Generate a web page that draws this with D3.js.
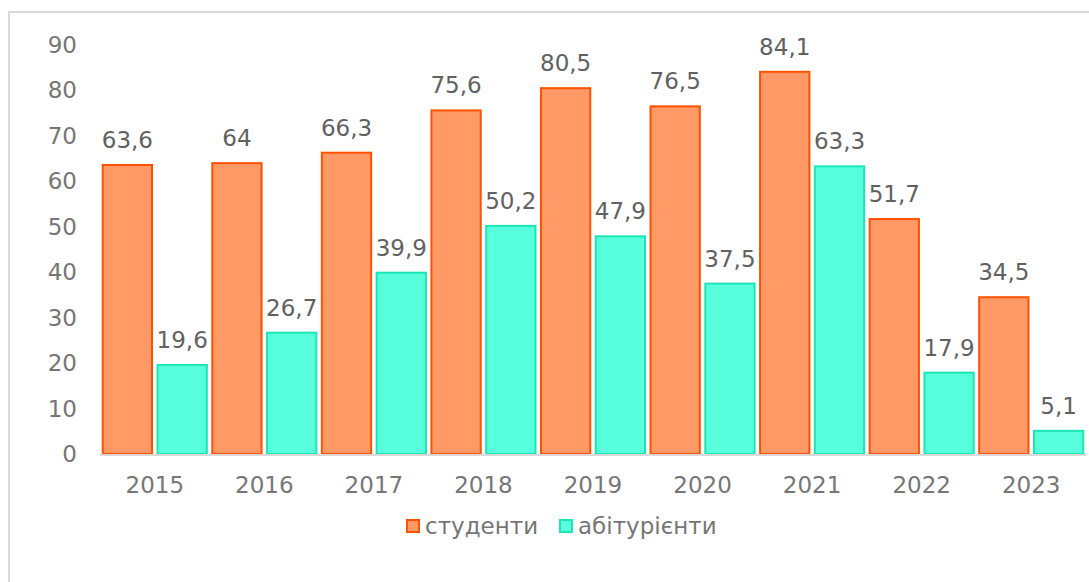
<!DOCTYPE html>
<html>
<head>
<meta charset="utf-8">
<script src="https://cdn.jsdelivr.net/npm/d3@7"></script>
<style>
  body { margin: 0; background: #fff; }
  svg { display: block; font-family: "DejaVu Sans", Verdana, sans-serif; }
</style>
</head>
<body>
<div id="chart"></div>
<script>
// Chart data
const years = ["2015", "2016", "2017", "2018", "2019", "2020", "2021", "2022", "2023"];
const students = [63.6, 64, 66.3, 75.6, 80.5, 76.5, 84.1, 51.7, 34.5];
const applicants = [19.6, 26.7, 39.9, 50.2, 47.9, 37.5, 63.3, 17.9, 5.1];
const seriesNames = ["студенти", "абітурієнти"];
const yTicks = [0, 10, 20, 30, 40, 50, 60, 70, 80, 90];

const width = 1089;
const height = 582;

const colors = {
  "студенти": { fill: "#FF9966", stroke: "#FF5200" },
  "абітурієнти": { fill: "#57FFDD", stroke: "#1DE5B5" }
};

const svg = d3.select("#chart")
  .append("svg")
  .attr("width", width)
  .attr("height", height);

// Outer chart border (runs past the right and bottom edge)
svg.append("rect")
  .attr("x", 9)
  .attr("y", 12)
  .attr("width", 1100)
  .attr("height", 600)
  .attr("fill", "none")
  .attr("stroke", "#d9d9d9")
  .attr("stroke-width", 2);

// Scales
const x0 = d3.scaleBand()
  .domain(years)
  .range([100, 1086])
  .paddingInner(0.05)
  .paddingOuter(0.025);

const x1 = d3.scaleBand()
  .domain(seriesNames)
  .range([0, x0.bandwidth()])
  .paddingInner(0.1);

const y = d3.scaleLinear()
  .domain([0, 90])
  .range([454, 45]);

// Y tick labels (no axis line)
svg.append("g")
  .selectAll("text")
  .data(yTicks)
  .join("text")
  .attr("x", 77)
  .attr("y", (d) => y(d))
  .attr("dy", "0.35em")
  .attr("text-anchor", "end")
  .attr("fill", "#767676")
  .attr("font-size", "23px")
  .text((d) => d);

// Group rows
const rows = years.map((yr, i) => ({
  year: yr,
  values: [
    { key: seriesNames[0], value: students[i] },
    { key: seriesNames[1], value: applicants[i] }
  ]
}));

const groups = svg.append("g")
  .selectAll("g")
  .data(rows)
  .join("g")
  .attr("transform", (d) => `translate(${x0(d.year)},0)`);

groups.selectAll("rect")
  .data((d) => d.values)
  .join("rect")
  .attr("x", (d) => x1(d.key))
  .attr("y", (d) => y(d.value))
  .attr("width", x1.bandwidth())
  .attr("height", (d) => y(0) - y(d.value))
  .attr("fill", (d) => colors[d.key].fill)
  .attr("stroke", (d) => colors[d.key].stroke)
  .attr("stroke-width", 2);

// Data labels
const fmt = (v) => String(v).replace(".", ",");
groups.selectAll("text")
  .data((d) => d.values)
  .join("text")
  .attr("x", (d) => x1(d.key) + x1.bandwidth() / 2)
  .attr("y", (d) => y(d.value) - 17)
  .attr("text-anchor", "middle")
  .attr("fill", "#616161")
  .attr("font-size", "23px")
  .text((d) => fmt(d.value));

// Baseline
svg.append("line")
  .attr("x1", 100)
  .attr("x2", 1086)
  .attr("y1", y(0) + 1)
  .attr("y2", y(0) + 1)
  .attr("stroke", "#d9d9d9")
  .attr("stroke-width", 2);

// X labels
svg.append("g")
  .selectAll("text")
  .data(years)
  .join("text")
  .attr("x", (d) => x0(d) + x0.bandwidth() / 2)
  .attr("y", 485)
  .attr("dy", "0.35em")
  .attr("text-anchor", "middle")
  .attr("fill", "#767676")
  .attr("font-size", "23px")
  .text((d) => d);

// Legend
const legendX = [407, 560];
const legend = svg.append("g")
  .selectAll("g")
  .data(seriesNames)
  .join("g")
  .attr("transform", (d, i) => `translate(${legendX[i]},526)`);

legend.append("rect")
  .attr("x", 0)
  .attr("y", -6)
  .attr("width", 12)
  .attr("height", 12)
  .attr("fill", (d) => colors[d].fill)
  .attr("stroke", (d) => colors[d].stroke)
  .attr("stroke-width", 2);

legend.append("text")
  .attr("x", 18)
  .attr("y", 0)
  .attr("dy", "0.35em")
  .attr("fill", "#767676")
  .attr("font-size", "23px")
  .text((d) => d);
</script>
</body>
</html>
